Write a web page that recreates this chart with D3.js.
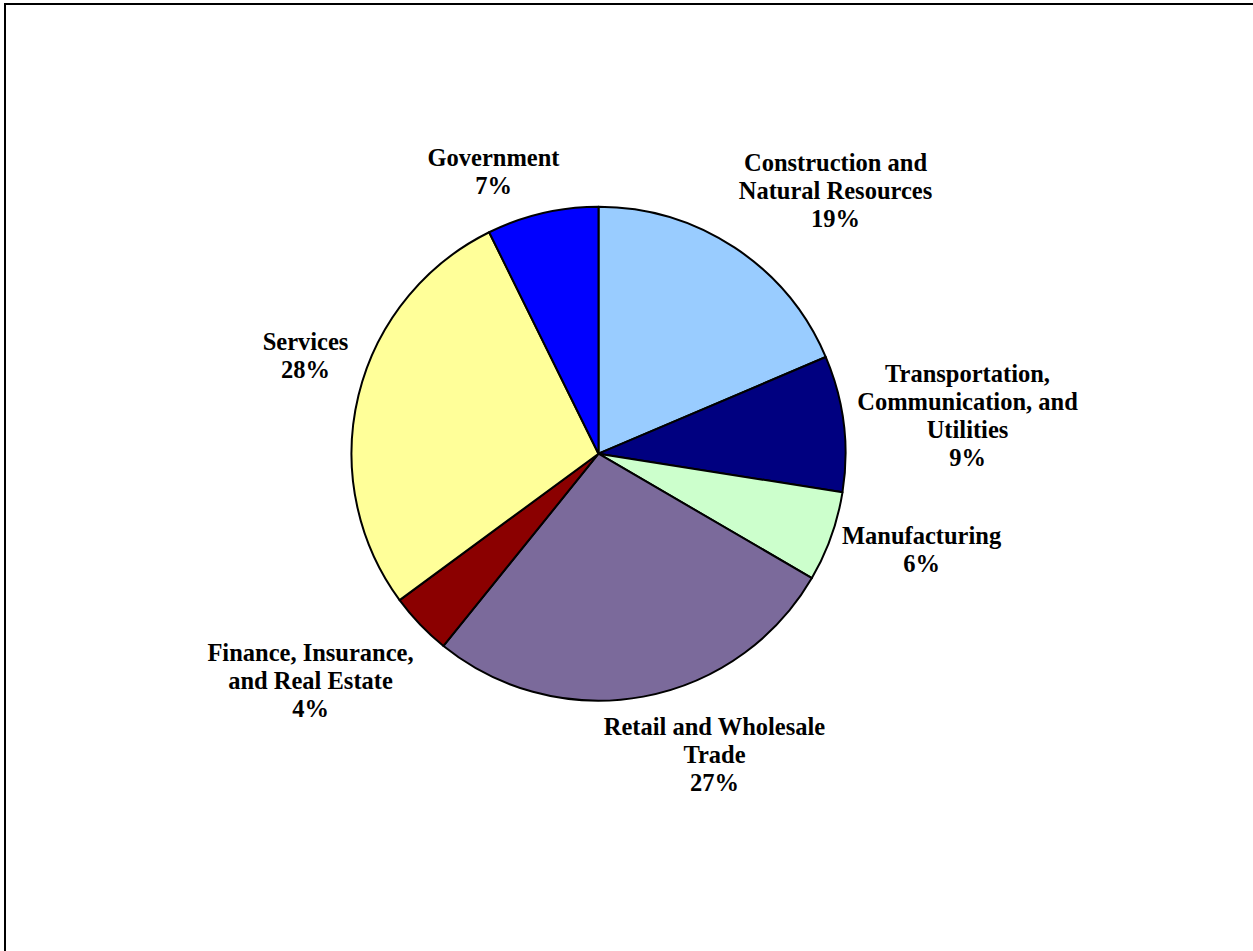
<!DOCTYPE html>
<html lang="en">
<head>
    <meta charset="UTF-8">
    <title>Employment by sector</title>
    <script src="https://cdn.jsdelivr.net/npm/d3@7"></script>
    <style>
        body { margin: 0; background: white; }
        .label {
            font-family: "Liberation Serif", "Times New Roman", serif;
            font-weight: bold;
            font-size: 24.5px;
            fill: black;
        }
    </style>
</head>
<body>

<script>
    const width = 1253, height = 951;

    // sectors, clockwise from 12 o'clock
    const sectors = [
        ["Construction and", "Natural Resources"],
        ["Transportation,", "Communication, and", "Utilities"],
        ["Manufacturing"],
        ["Retail and Wholesale", "Trade"],
        ["Finance, Insurance,", "and Real Estate"],
        ["Services"],
        ["Government"]
    ];
    const shares = [18.6, 8.9, 5.9, 27.4, 4.1, 27.8, 7.3];
    const colors = ["#99ccff", "#000080", "#ccffcc", "#7b6a9b", "#8b0000", "#ffff99", "#0000ff"];

    // label block placement: centre x and first baseline, relative to pie centre
    const labelPos = [
        [237, -283], [369, -72], [323, 90], [116, 281], [-288, 207], [-293, -104], [-105, -288]
    ];

    const cx = 598.5, cy = 453.7, radius = 247, lineH = 28;

    const svg = d3.select("body")
                  .append("svg")
                  .attr("width", width)
                  .attr("height", height);

    // outer frame (runs off the right and bottom of the picture)
    svg.append("rect")
       .attr("x", 5).attr("y", 4)
       .attr("width", 1260).attr("height", 960)
       .attr("fill", "none")
       .attr("stroke", "black")
       .attr("stroke-width", 2);

    const total = d3.sum(shares);
    const fmt = d3.format(".0%");

    const pie = d3.pie().sort(null).value(d => d);
    const arc = d3.arc().innerRadius(0).outerRadius(radius);

    const g = svg.append("g").attr("transform", `translate(${cx},${cy})`);

    g.selectAll("path.slice")
     .data(pie(shares))
     .join("path").attr("class", "slice")
     .attr("d", arc)
     .attr("fill", (d, i) => colors[i])
     .attr("stroke", "black")
     .attr("stroke-width", 2)
     .attr("stroke-linejoin", "round");

    const labels = g.selectAll("text.label")
     .data(sectors)
     .join("text").attr("class", "label")
     .attr("text-anchor", "middle");

    labels.each(function(lines, i) {
        const t = d3.select(this);
        const all = lines.concat([fmt(shares[i] / total)]);
        all.forEach((s, k) => {
            t.append("tspan")
             .attr("x", labelPos[i][0])
             .attr("y", labelPos[i][1] + k * lineH)
             .text(s);
        });
    });
</script>

</body>
</html>
